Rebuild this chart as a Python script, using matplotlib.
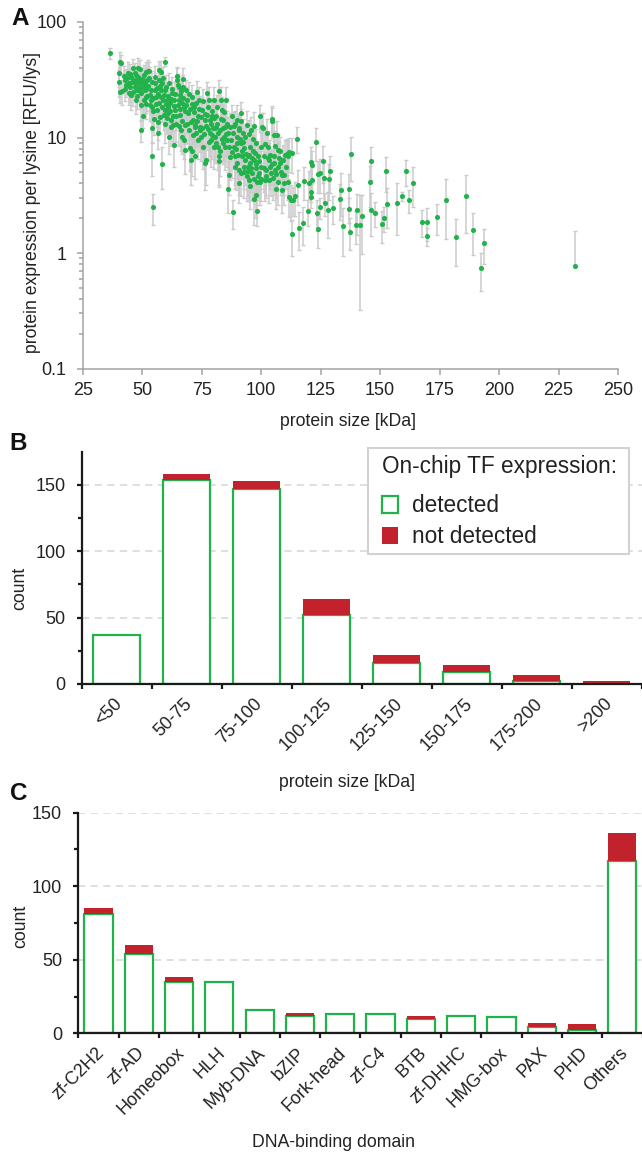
import numpy as np
import matplotlib
matplotlib.use('Agg')
import matplotlib.pyplot as plt
from matplotlib.patches import Patch, Rectangle
from matplotlib.transforms import ScaledTranslation
from matplotlib.ticker import FixedLocator, NullFormatter

plt.rcParams['font.family'] = ['Liberation Sans', 'DejaVu Sans']

GREEN = '#22b24c'
RED = '#c1222b'
ERRC = '#cbcbcb'
TXT = '#222222'

# ---------------- Panel A data ----------------
size_kda = [
    36.6, 40.5, 41.0, 40.3, 40.2, 40.5, 41.7, 42.2,
    42.6, 43.4, 44.0, 44.8, 45.2, 46.0, 46.6, 46.9, 47.4, 47.9, 48.3, 48.6, 49.0, 49.5, 50.0, 49.5, 50.3, 50.7, 51.2, 51.6, 51.7, 50.3, 49.1, 44.5, 45.5, 47.4,
    52.1, 52.4, 52.9, 53.4, 53.8, 54.1, 54.7, 54.0, 54.1, 54.7, 55.2, 55.5, 56.0, 56.4, 56.6, 56.9, 57.2, 57.6, 57.8, 58.1, 58.3, 58.6, 58.4, 59.0, 59.5, 59.8, 59.8,
    60.3, 60.7, 61.0, 61.6, 62.1, 62.4, 62.8, 63.3, 63.8, 64.1, 64.5, 64.7, 65.2, 65.5, 65.9, 66.2, 66.7, 67.1, 67.2, 67.6, 67.6, 68.1, 66.7, 65.5, 63.3, 61.4, 62.1,
    68.4, 69.0, 69.3, 69.7, 70.2, 70.5, 71.0, 71.4, 71.9, 72.4, 72.8, 73.1, 73.6, 74.0, 74.5, 74.8, 75.3, 75.7, 76.2, 76.2, 76.7, 72.4, 71.0,
    77.1, 77.6, 77.9, 78.3, 78.6, 79.0, 79.3, 79.7, 80.0, 80.3, 80.7, 81.0, 81.4, 81.7, 82.2, 82.4, 83.1, 83.4, 84.0, 84.5, 84.8, 85.2, 84.0, 82.8, 82.2,
    85.7, 85.9, 86.6, 86.7, 87.1, 87.6, 88.0, 88.3, 88.6, 89.1, 89.7, 90.0, 90.5, 90.9, 91.4, 91.7, 92.1, 92.6, 92.9, 93.4, 91.7, 90.0, 89.1,
    94.3, 94.8, 95.2, 95.5, 96.0, 96.6, 96.9, 97.2, 97.8, 97.9, 98.3, 98.6, 99.0, 99.5, 99.7, 100.0, 100.3, 100.0, 97.8, 95.5, 94.3, 98.3,
    100.7, 101.2, 101.7, 102.0, 102.4, 102.9, 103.4, 103.8, 104.1, 104.7, 104.7, 105.2, 105.2, 105.5, 105.9, 106.4, 106.7, 106.9, 107.2, 107.8, 108.6, 108.9, 109.8, 110.2, 110.7, 111.2, 110.3, 108.1,
    111.9, 112.8, 111.9, 112.4, 113.4, 114.1, 115.2, 115.5, 115.9, 112.8, 111.5,
    117.6, 117.9, 120.2, 119.6, 121.1, 121.1, 121.1, 121.5, 121.5, 123.0, 123.3, 123.9, 123.9, 124.6, 124.6, 126.2, 126.4, 126.7, 127.9, 128.6,
    129.0, 130.0, 133.0, 133.7, 134.5, 136.8, 136.8, 137.3, 137.6, 139.7, 140.3, 141.6, 142.2, 145.6, 146.0, 146.3, 147.8, 150.9, 151.5, 152.3,
    153.0, 157.2, 159.2, 161.1, 162.1, 163.9, 167.8, 169.8, 169.8, 174.1, 177.9, 182.1, 186.3, 189.0, 192.4, 193.8, 231.9,
    42.9, 43.7, 44.3, 45.0, 45.8, 46.3, 46.8, 47.2, 47.7, 48.0, 48.4, 48.9, 49.3, 49.7, 50.2, 50.6, 51.0, 51.4, 51.8, 52.2,
    52.6, 53.0, 53.3, 53.7, 54.2, 54.5, 54.9, 55.3, 55.7, 56.1, 56.5, 56.8, 57.1, 57.4, 57.9, 58.4, 58.8, 59.2, 59.6, 59.9,
    60.2, 60.5, 60.9, 61.3, 61.8, 62.2, 62.6, 63.0, 63.5, 63.9, 64.3, 64.9, 65.3, 65.7, 66.0, 66.4, 66.9, 67.3, 67.8, 68.0,
    68.6, 68.9, 69.5, 69.9, 70.4, 70.8, 71.2, 71.6, 72.0, 72.6, 73.0, 73.3, 73.8, 74.2, 74.6, 75.0, 75.5, 75.9, 76.4, 76.9,
    77.3, 77.8, 78.1, 78.8, 79.2, 79.5, 80.1, 80.5, 80.9, 81.2, 81.6, 82.0, 82.6, 83.0, 83.6, 83.9, 84.3, 84.7, 85.1, 85.5,
    86.2, 86.9, 87.4, 87.9, 88.8, 89.4, 89.9, 90.3, 90.7, 91.1, 91.9, 92.4, 93.0, 93.7, 94.0, 94.6, 95.0, 95.8, 96.3, 96.8, 97.5, 98.0, 98.8, 99.3, 99.8,
    101.0, 101.5, 102.2, 102.7, 103.1, 103.6, 104.4, 105.0, 105.7, 106.2, 107.0, 107.5, 108.4, 109.2, 109.5,
    89.2, 90.6, 91.5, 92.3, 93.1, 93.9, 94.7, 95.9, 96.4, 97.0,
]
expr = [
    53.5, 45.1, 44.0, 36.5, 30.2, 24.9, 25.3, 34.0,
    31.6, 28.5, 36.4, 27.2, 33.2, 39.7, 31.6, 27.2, 34.8, 25.7, 39.7, 29.4, 38.8, 24.1, 30.5, 11.6, 31.6, 21.1, 25.7, 22.4, 37.2, 15.2, 27.2, 24.1, 23.2, 21.1,
    31.6, 37.9, 37.9, 23.4, 21.1, 18.5, 16.8, 12.0, 6.9, 2.5, 29.4, 25.7, 22.4, 17.3, 10.9, 38.4, 31.6, 27.8, 37.2, 22.4, 29.4, 21.1, 5.9, 15.7, 17.3, 45.3, 25.7,
    21.1, 18.5, 16.2, 19.7, 14.1, 24.1, 15.2, 21.1, 17.3, 13.2, 31.6, 34.0, 28.5, 21.1, 15.7, 11.6, 19.7, 27.5, 31.9, 18.5, 9.5, 7.8, 10.2, 27.2, 8.6, 10.2, 12.4,
    25.7, 21.1, 16.2, 11.6, 8.1, 6.4, 22.4, 14.1, 18.5, 12.4, 10.9, 24.9, 15.2, 21.1, 12.4, 10.2, 17.3, 8.3, 14.1, 6.0, 6.4, 6.9, 7.6,
    24.1, 18.5, 21.1, 14.1, 10.9, 9.5, 15.2, 12.0, 21.1, 8.3, 10.2, 12.4, 18.5, 10.9, 6.9, 6.2, 21.1, 17.3, 14.1, 10.2, 12.4, 21.1, 8.9, 7.6, 25.3,
    9.5, 3.6, 8.3, 4.7, 12.4, 15.2, 2.25, 10.9, 8.3, 6.9, 10.2, 14.1, 4.0, 11.6, 8.9, 16.2, 6.9, 5.6, 8.1, 6.4, 4.9, 6.0, 5.6,
    5.1, 4.3, 3.8, 6.0, 4.9, 7.6, 2.95, 6.4, 5.4, 3.2, 2.3, 6.9, 4.9, 4.1, 15.2, 5.6, 12.4, 8.3, 8.9, 8.3, 6.9, 4.1,
    12.2, 6.9, 4.3, 5.2, 11.0, 8.3, 6.4, 5.6, 4.9, 14.6, 14.0, 10.5, 6.9, 6.0, 5.2, 3.6, 10.5, 7.8, 5.6, 6.0, 3.5, 4.7, 4.7, 7.1, 7.2, 6.9, 5.6, 7.6,
    7.5, 1.45, 3.05, 2.9, 2.9, 3.1, 9.8, 3.9, 1.66, 7.4, 4.1,
    1.83, 4.2, 4.0, 2.3, 3.37, 3.05, 6.1, 5.8, 4.3, 9.2, 2.2, 1.60, 4.8, 4.9, 2.48, 6.2, 4.49, 2.69, 2.35, 4.35,
    5.1, 2.44, 2.93, 3.49, 1.70, 3.6, 2.42, 1.53, 7.2, 1.75, 2.34, 1.75, 2.09, 4.1, 6.3, 2.35, 2.23, 1.77, 2.02, 5.1,
    2.64, 2.73, 3.1, 5.1, 2.86, 4.0, 1.87, 1.87, 1.40, 2.04, 2.86, 1.37, 3.1, 1.58, 0.74, 1.21, 0.77,
    26.5, 32.5, 29.5, 35.5, 30.0, 24.8, 36.5, 29.0, 31.0, 22.8, 33.5, 25.5, 32.0, 19.0, 27.5, 34.5, 29.0, 19.5, 26.5, 23.0,
    28.0, 33.0, 19.0, 26.0, 30.5, 22.0, 14.5, 33.5, 19.5, 27.0, 13.5, 24.0, 20.0, 15.0, 26.0, 18.5, 32.5, 23.5, 13.0, 19.5,
    27.5, 14.8, 23.0, 29.5, 17.0, 21.5, 26.5, 12.8, 18.8, 24.0, 15.5, 19.0, 12.5, 23.5, 17.5, 25.5, 14.0, 22.0, 12.8, 16.8,
    19.0, 13.0, 24.0, 17.5, 13.5, 19.5, 10.5, 16.5, 12.8, 20.0, 14.0, 9.5, 17.8, 11.5, 15.0, 12.0, 20.5, 10.8, 16.0, 12.5,
    15.8, 11.8, 9.2, 13.0, 17.0, 10.5, 14.8, 12.0, 9.0, 15.5, 13.2, 8.2, 11.5, 14.5, 9.8, 12.0, 16.5, 8.2, 10.8, 13.0,
    11.0, 6.8, 9.6, 7.5, 12.5, 8.0, 9.0, 7.0, 5.2, 9.8, 7.6, 9.2, 5.0, 7.2, 4.6, 5.6, 7.0, 5.4, 6.6, 4.4, 7.3, 5.9, 4.6, 6.2, 4.4,
    5.4, 8.8, 4.6, 6.6, 4.3, 7.0, 5.9, 4.5, 8.4, 4.8, 4.1, 6.6, 5.0, 6.4, 4.0,
    13.0, 12.0, 13.8, 11.0, 10.2, 12.8, 10.8, 11.6, 9.8, 12.6,
]
expr_err = [
    5.5, 10, 8, 9, 8, 5, 6, 8,
    7, 6, 9, 7, 6, 8, 9, 6, 7, 8, 9, 7, 8, 6, 8, 2.5, 7, 5, 6, 6, 8, 3, 7, 5, 6, 5,
    8, 9, 7, 6, 5, 5, 4, 3, 2.3, 0.75, 7, 6, 6, 5, 3, 8, 8, 7, 9, 5, 6, 6, 2.3, 4, 5, 4, 7,
    6, 5, 5, 5, 4, 6, 4, 6, 5, 4, 8, 7, 7, 6, 5, 4, 5, 7, 8, 5, 3, 3, 3, 7, 3, 3, 4,
    6, 6, 5, 4, 3, 2.5, 6, 5, 5, 4, 4, 6, 5, 6, 4, 4, 5, 3, 4, 2.5, 2.5, 2.5, 3,
    6, 5, 6, 5, 4, 4, 5, 4, 6, 3, 4, 4, 5, 4, 3, 2.5, 6, 5, 5, 4, 4, 6, 3, 3, 6,
    4, 1.4, 3, 1.5, 4, 4, 0.65, 4, 3, 3, 4, 5, 1.3, 4, 3, 4, 2.5, 2, 3, 2.5, 1.8, 2.5, 2,
    2, 1.5, 1.4, 2, 2, 3, 1.2, 2, 2, 1.2, 0.6, 2.5, 1.8, 1.5, 4, 2, 4, 3, 3, 3, 2.5, 1.5,
    4, 2.5, 1.5, 2, 3.5, 3, 2.5, 2, 1.8, 4, 4, 3, 2.5, 2.5, 2, 1.2, 3.5, 3, 2, 2, 1.3, 1.5, 1.5, 2.5, 2.5, 2.5, 2, 2.5,
    2.5, 0.5, 1.0, 1.0, 0.8, 1.0, 2.5, 1.3, 0.6, 2.5, 1.2,
    0.65, 1.3, 1.1, 0.6, 0.6, 0.6, 2.2, 1.8, 1.3, 3.0, 0.65, 0.5, 1.5, 1.6, 0.5, 2.2, 1.7, 0.6, 1.0, 1.5,
    1.8, 0.65, 1.0, 1.4, 0.75, 1.2, 0.6, 0.47, 3.0, 0.55, 0.9, 1.43, 1.1, 1.6, 2.0, 0.95, 0.55, 0.55, 0.5, 1.7,
    1.0, 1.3, 0.3, 1.3, 0.65, 1.5, 0.5, 0.6, 0.25, 0.6, 1.55, 0.6, 1.6, 0.62, 0.27, 0.4, 0.79,
    6, 7, 6, 8, 7, 6, 8, 7, 7, 5, 8, 6, 7, 5, 7, 8, 7, 5, 6, 6,
    7, 8, 5, 6, 7, 6, 4, 8, 5, 7, 4, 6, 5, 4, 7, 5, 8, 6, 4, 5,
    7, 4, 6, 7, 5, 6, 7, 4, 5, 6, 4, 5, 4, 6, 5, 7, 4, 6, 4, 5,
    5, 4, 6, 5, 4, 5, 4, 5, 4, 6, 5, 3, 5, 4, 5, 4, 6, 4, 5, 4,
    5, 4, 3, 4, 5, 4, 5, 4, 3, 5, 4, 3, 4, 5, 3, 4, 5, 3, 4, 4,
    4, 2.5, 3, 3, 4, 3, 3, 2.5, 2, 3, 3, 3, 2, 2.5, 1.8, 2, 2.5, 2, 2.5, 1.6, 2.5, 2, 1.6, 2.2, 1.6,
    2, 3, 1.6, 2.5, 1.6, 2.5, 2, 1.6, 3, 1.8, 1.5, 2.5, 1.8, 2.2, 1.4,
    4, 4, 4, 3.5, 3, 4, 3.5, 3.5, 3, 4,
]
a_xticks = [25, 50, 75, 100, 125, 150, 175, 200, 225, 250]
a_yticks = [0.1, 1, 10, 100]
a_yticklabels = ['0.1', '1', '10', '100']

# ---------------- Panel B data ----------------
size_bins = ['<50', '50-75', '75-100', '100-125', '125-150', '150-175', '175-200', '>200']
size_detected = [37, 154, 147, 52, 16, 9, 2, 0]
size_not_detected = [0, 4, 6, 12, 6, 5, 5, 2]

# ---------------- Panel C data ----------------
domains = ['zf-C2H2', 'zf-AD', 'Homeobox', 'HLH', 'Myb-DNA', 'bZIP', 'Fork-head',
           'zf-C4', 'BTB', 'zf-DHHC', 'HMG-box', 'PAX', 'PHD', 'Others']
dom_detected = [81, 54, 35, 35, 16, 12, 13, 13, 10, 12, 11, 4, 2, 117]
dom_not_detected = [4, 6, 3, 0, 0, 2, 0, 0, 2, 0, 0, 3, 4, 19]

count_ticks = [0, 50, 100, 150]
count_minor = [25, 75, 125]

W, H = 642, 1153
fig = plt.figure(figsize=(W / 100, H / 100), dpi=100)


def frac(l, t, r, b):
    return [l / W, 1 - b / H, (r - l) / W, (b - t) / H]


# ================= Panel A =================
axA = fig.add_axes(frac(82.7, 22, 618, 368.5))
x = np.array(size_kda)
y = np.array(expr)
e = np.array(expr_err)
lo = np.where(e < y, e, 0.0)
axA.errorbar(x, y, yerr=[lo, e], fmt='none', ecolor=ERRC, elinewidth=1.1,
             capsize=1.5, capthick=1.0, zorder=1)
axA.plot(x, y, 'o', color=GREEN, ms=3.7, mec='none', zorder=2)
axA.set_yscale('log')
axA.set_xlim(25, 250)
axA.set_ylim(0.1, 100)
axA.set_xticks(a_xticks)
axA.set_yticks(a_yticks, a_yticklabels)
minor_y = [m * 10.0 ** k for k in (-1, 0, 1) for m in range(2, 10)]
axA.yaxis.set_minor_locator(FixedLocator(minor_y))
axA.yaxis.set_minor_formatter(NullFormatter())
for s in ('top', 'right'):
    axA.spines[s].set_visible(False)
for s in ('left', 'bottom'):
    axA.spines[s].set_color('#a3a3a3')
    axA.spines[s].set_linewidth(1.1)
axA.tick_params(which='both', direction='out', color='#a3a3a3', width=1.1,
                labelsize=13, labelcolor=TXT)
axA.tick_params(which='major', length=4.5)
axA.tick_params(which='minor', length=2.8)
axA.tick_params(axis='y', pad=7)
axA.tick_params(axis='x', pad=5)
axA.text(-0.0947, 0.4805, 'protein expression per lysine [RFU/lys]', rotation=90,
         ha='center', va='center', fontsize=12.7, color=TXT, transform=axA.transAxes)
axA.text(0.496, -0.1535, 'protein size [kDa]', ha='center', va='center',
         fontsize=12.7, color=TXT, transform=axA.transAxes)


def style_bar_axes(ax, n, labels, label_dx):
    for s in ('top', 'right'):
        ax.spines[s].set_visible(False)
    for s in ('left', 'bottom'):
        ax.spines[s].set_color('#1a1a1a')
        ax.spines[s].set_linewidth(1.6)
        ax.spines[s].set_zorder(5)
    ax.set_xlim(-0.5, n - 0.5)
    ax.set_xticks(np.arange(-0.5, n, 1.0), [''] * (n + 1))
    ax.set_xticks(np.arange(n), labels, minor=True)
    ax.set_yticks(count_ticks)
    ax.yaxis.set_minor_locator(FixedLocator(count_minor))
    ax.tick_params(axis='x', which='major', direction='out', length=3.6, width=1.6,
                   color='#1a1a1a')
    ax.tick_params(axis='x', which='minor', length=0, pad=12.3, labelsize=13,
                   labelcolor=TXT)
    ax.tick_params(axis='y', which='both', direction='out', width=1.6, color='#1a1a1a',
                   labelsize=13, labelcolor=TXT, pad=8)
    ax.tick_params(axis='y', which='major', length=3.6)
    ax.tick_params(axis='y', which='minor', length=3.2)
    for v in count_ticks[1:]:
        ax.axhline(v, color='#dcdcdc', lw=1.3, ls=(0, (4, 3)), zorder=0.5)
    off = ScaledTranslation(label_dx, 0, fig.dpi_scale_trans)
    for lab in ax.get_xticklabels(minor=True):
        lab.set_rotation(45)
        lab.set_ha('right')
        lab.set_va('center')
        lab.set_rotation_mode('anchor')
        lab.set_transform(lab.get_transform() + off)


# ================= Panel B =================
bl, bt, br, bb = 81.7, 451.7, 641.7, 684
axB = fig.add_axes(frac(bl, bt, br, bb))
nb = len(size_bins)
xb = np.arange(nb)
axB.bar(xb, size_detected, width=0.667, facecolor='white', edgecolor=GREEN,
        linewidth=1.6, zorder=2)
axB.bar(xb, size_not_detected, bottom=size_detected, width=0.667, color=RED,
        linewidth=0, zorder=3)
axB.set_ylim(0, 175)
style_bar_axes(axB, nb, size_bins, 0.03)
axB.text(0.4737, -0.426, 'protein size [kDa]', ha='center', va='center',
         fontsize=12.7, color=TXT, transform=axB.transAxes)
axB.text(-0.110, 0.413, 'count', rotation=90, ha='center', va='center',
         fontsize=12.7, color=TXT, transform=axB.transAxes)


def bpx(px, py):
    return ((px - bl) / (br - bl), (bb - py) / (bb - bt))


# legend frame
fx0, fy0 = bpx(368, 554.3)
fx1, fy1 = bpx(629, 447.7)
axB.add_patch(Rectangle((fx0, fy0), fx1 - fx0, fy1 - fy0, transform=axB.transAxes,
                        facecolor='white', edgecolor='#d2d2d2', linewidth=1.5,
                        clip_on=False, zorder=9))
handles = [Patch(facecolor='white', edgecolor=GREEN, linewidth=1.6, label='detected'),
           Patch(facecolor=RED, edgecolor=RED, linewidth=0, label='not detected')]
leg = axB.legend(handles=handles, title='On-chip TF expression:', loc='upper left',
                 bbox_to_anchor=bpx(381.5, 455), borderaxespad=0, borderpad=0,
                 fontsize=16.3, title_fontsize=16.3, frameon=False,
                 handlelength=0.75, handleheight=0.75, handletextpad=0.6,
                 labelspacing=0.35, alignment='left')
leg._legend_box.sep = 11.8
leg.set_zorder(10)
for t in leg.get_texts():
    t.set_color(TXT)
leg.get_title().set_color(TXT)

# ================= Panel C =================
axC = fig.add_axes(frac(78.3, 812.7, 642.5, 1033.3))
nc = len(domains)
xc = np.arange(nc)
axC.bar(xc, dom_detected, width=0.70, facecolor='white', edgecolor=GREEN,
        linewidth=1.6, zorder=2)
axC.bar(xc, dom_not_detected, bottom=dom_detected, width=0.70, color=RED,
        linewidth=0, zorder=3)
axC.set_ylim(0, 150)
style_bar_axes(axC, nc, domains, 0.03)
axC.text(0.4532, -0.497, 'DNA-binding domain', ha='center', va='center',
         fontsize=12.7, color=TXT, transform=axC.transAxes)
axC.text(-0.1016, 0.483, 'count', rotation=90, ha='center', va='center',
         fontsize=12.7, color=TXT, transform=axC.transAxes)

# panel letters
for letter, (px, py) in zip('ABC', [(20, 18.5), (18.5, 443), (18.5, 793.5)]):
    fig.text(px / W, 1 - py / H, letter, ha='center', va='center', fontsize=17.5,
             fontweight='bold', color='#111111')

fig.savefig('out.png', dpi=100)
